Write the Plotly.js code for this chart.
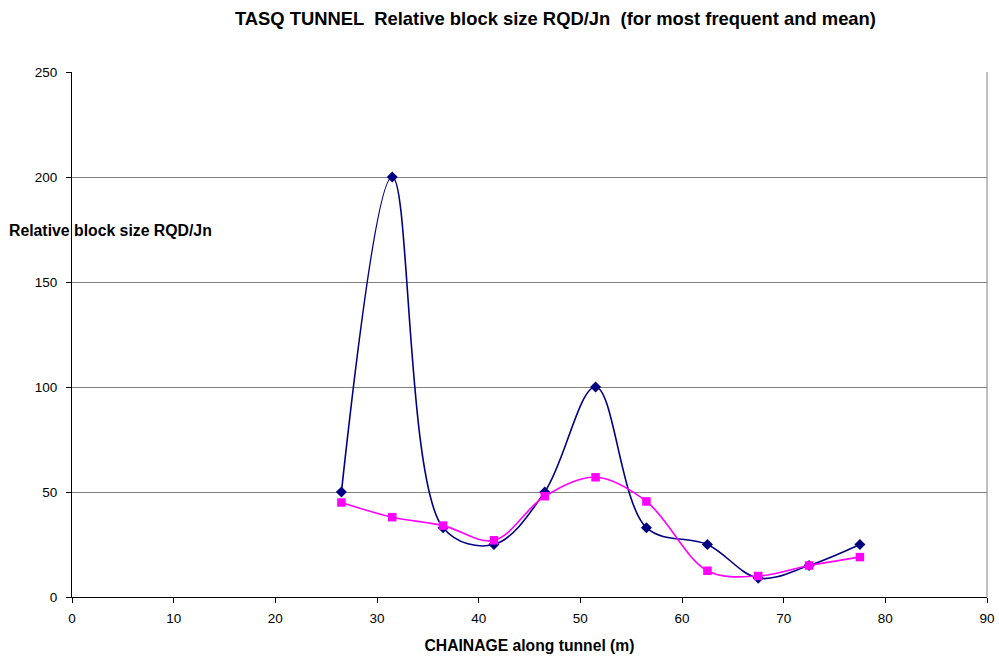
<!DOCTYPE html>
<html>
<head>
<meta charset="utf-8">
<script src="https://cdn.plot.ly/plotly-3.0.1.min.js"></script>
<style>
  html, body { margin: 0; padding: 0; background: #fff; }
  #chart { width: 999px; height: 658px; }
</style>
</head>
<body>
<div id="chart"></div>
<script>
// Chainage stations along the tunnel (m)
const chainage = [26.5, 31.5, 36.5, 41.5, 46.5, 51.5, 56.5, 62.5, 67.5, 72.5, 77.5];
// Relative block size RQD/Jn, most frequent values
const mostFrequent = [50, 200, 33, 25, 50, 100, 33, 25, 9, 15, 25];
// Relative block size RQD/Jn, mean values
const meanValues = [45, 38, 34, 27, 48, 57, 45.5, 12.5, 10, 15, 19];

const xTicks = [0, 10, 20, 30, 40, 50, 60, 70, 80, 90];
const yTicks = [0, 50, 100, 150, 200, 250];

const font = 'Arial, "Liberation Sans", sans-serif';

const traces = [
  {
    x: chainage, y: mostFrequent, name: 'Most frequent',
    type: 'scatter', mode: 'lines+markers',
    line: { color: '#000080', width: 1.6, shape: 'spline', smoothing: 1 },
    marker: { symbol: 'diamond', size: 8.5, color: '#000080' }
  },
  {
    x: chainage, y: meanValues, name: 'Mean',
    type: 'scatter', mode: 'lines+markers',
    line: { color: '#FF00FF', width: 1.6, shape: 'spline', smoothing: 1 },
    marker: { symbol: 'square', size: 8.5, color: '#FF00FF' }
  }
];

const layout = {
  width: 999, height: 658,
  margin: { l: 72, r: 12, t: 72, b: 61 },
  paper_bgcolor: '#fff', plot_bgcolor: '#fff',
  showlegend: false,
  font: { family: font, size: 13.5, color: '#000' },
  title: {
    text: '<b>TASQ TUNNEL  Relative block size RQD/Jn  (for most frequent and mean)</b>',
    font: { family: font, size: 18.4, color: '#000' },
    x: 0.556, xanchor: 'center', xref: 'container',
    y: 0.972, yanchor: 'middle', yref: 'container'
  },
  xaxis: {
    range: [0, 90], tickvals: xTicks, ticktext: xTicks.map(String),
    showgrid: false, zeroline: false,
    showline: true, linecolor: '#000', linewidth: 1,
    ticks: 'outside', ticklen: 5, tickcolor: '#000',
    ticklabelstandoff: 4,
    tickfont: { family: font, size: 13.5 },
    title: { text: '<b>CHAINAGE along tunnel (m)</b>', font: { family: font, size: 15.7 }, standoff: 14 }
  },
  yaxis: {
    range: [0, 250], tickvals: yTicks, ticktext: yTicks.map(String),
    showgrid: true, gridcolor: '#808080', gridwidth: 1,
    zeroline: false,
    showline: true, linecolor: '#000', linewidth: 1,
    ticks: 'outside', ticklen: 5, tickcolor: '#000',
    ticklabelstandoff: 6,
    tickfont: { family: font, size: 13.5 }
  },
  shapes: [
    { type: 'line', xref: 'paper', yref: 'paper', x0: 1, x1: 1, y0: 0, y1: 1,
      line: { color: '#808080', width: 1 } }
  ],
  annotations: [
    {
      text: '<b>Relative block size RQD/Jn</b>',
      xref: 'paper', yref: 'paper', x: -0.0715, y: 0.699,
      xanchor: 'left', yanchor: 'middle', showarrow: false,
      font: { family: font, size: 15.8, color: '#000' }
    }
  ]
};

Plotly.newPlot('chart', traces, layout, { displayModeBar: false, staticPlot: true });
</script>
</body>
</html>
